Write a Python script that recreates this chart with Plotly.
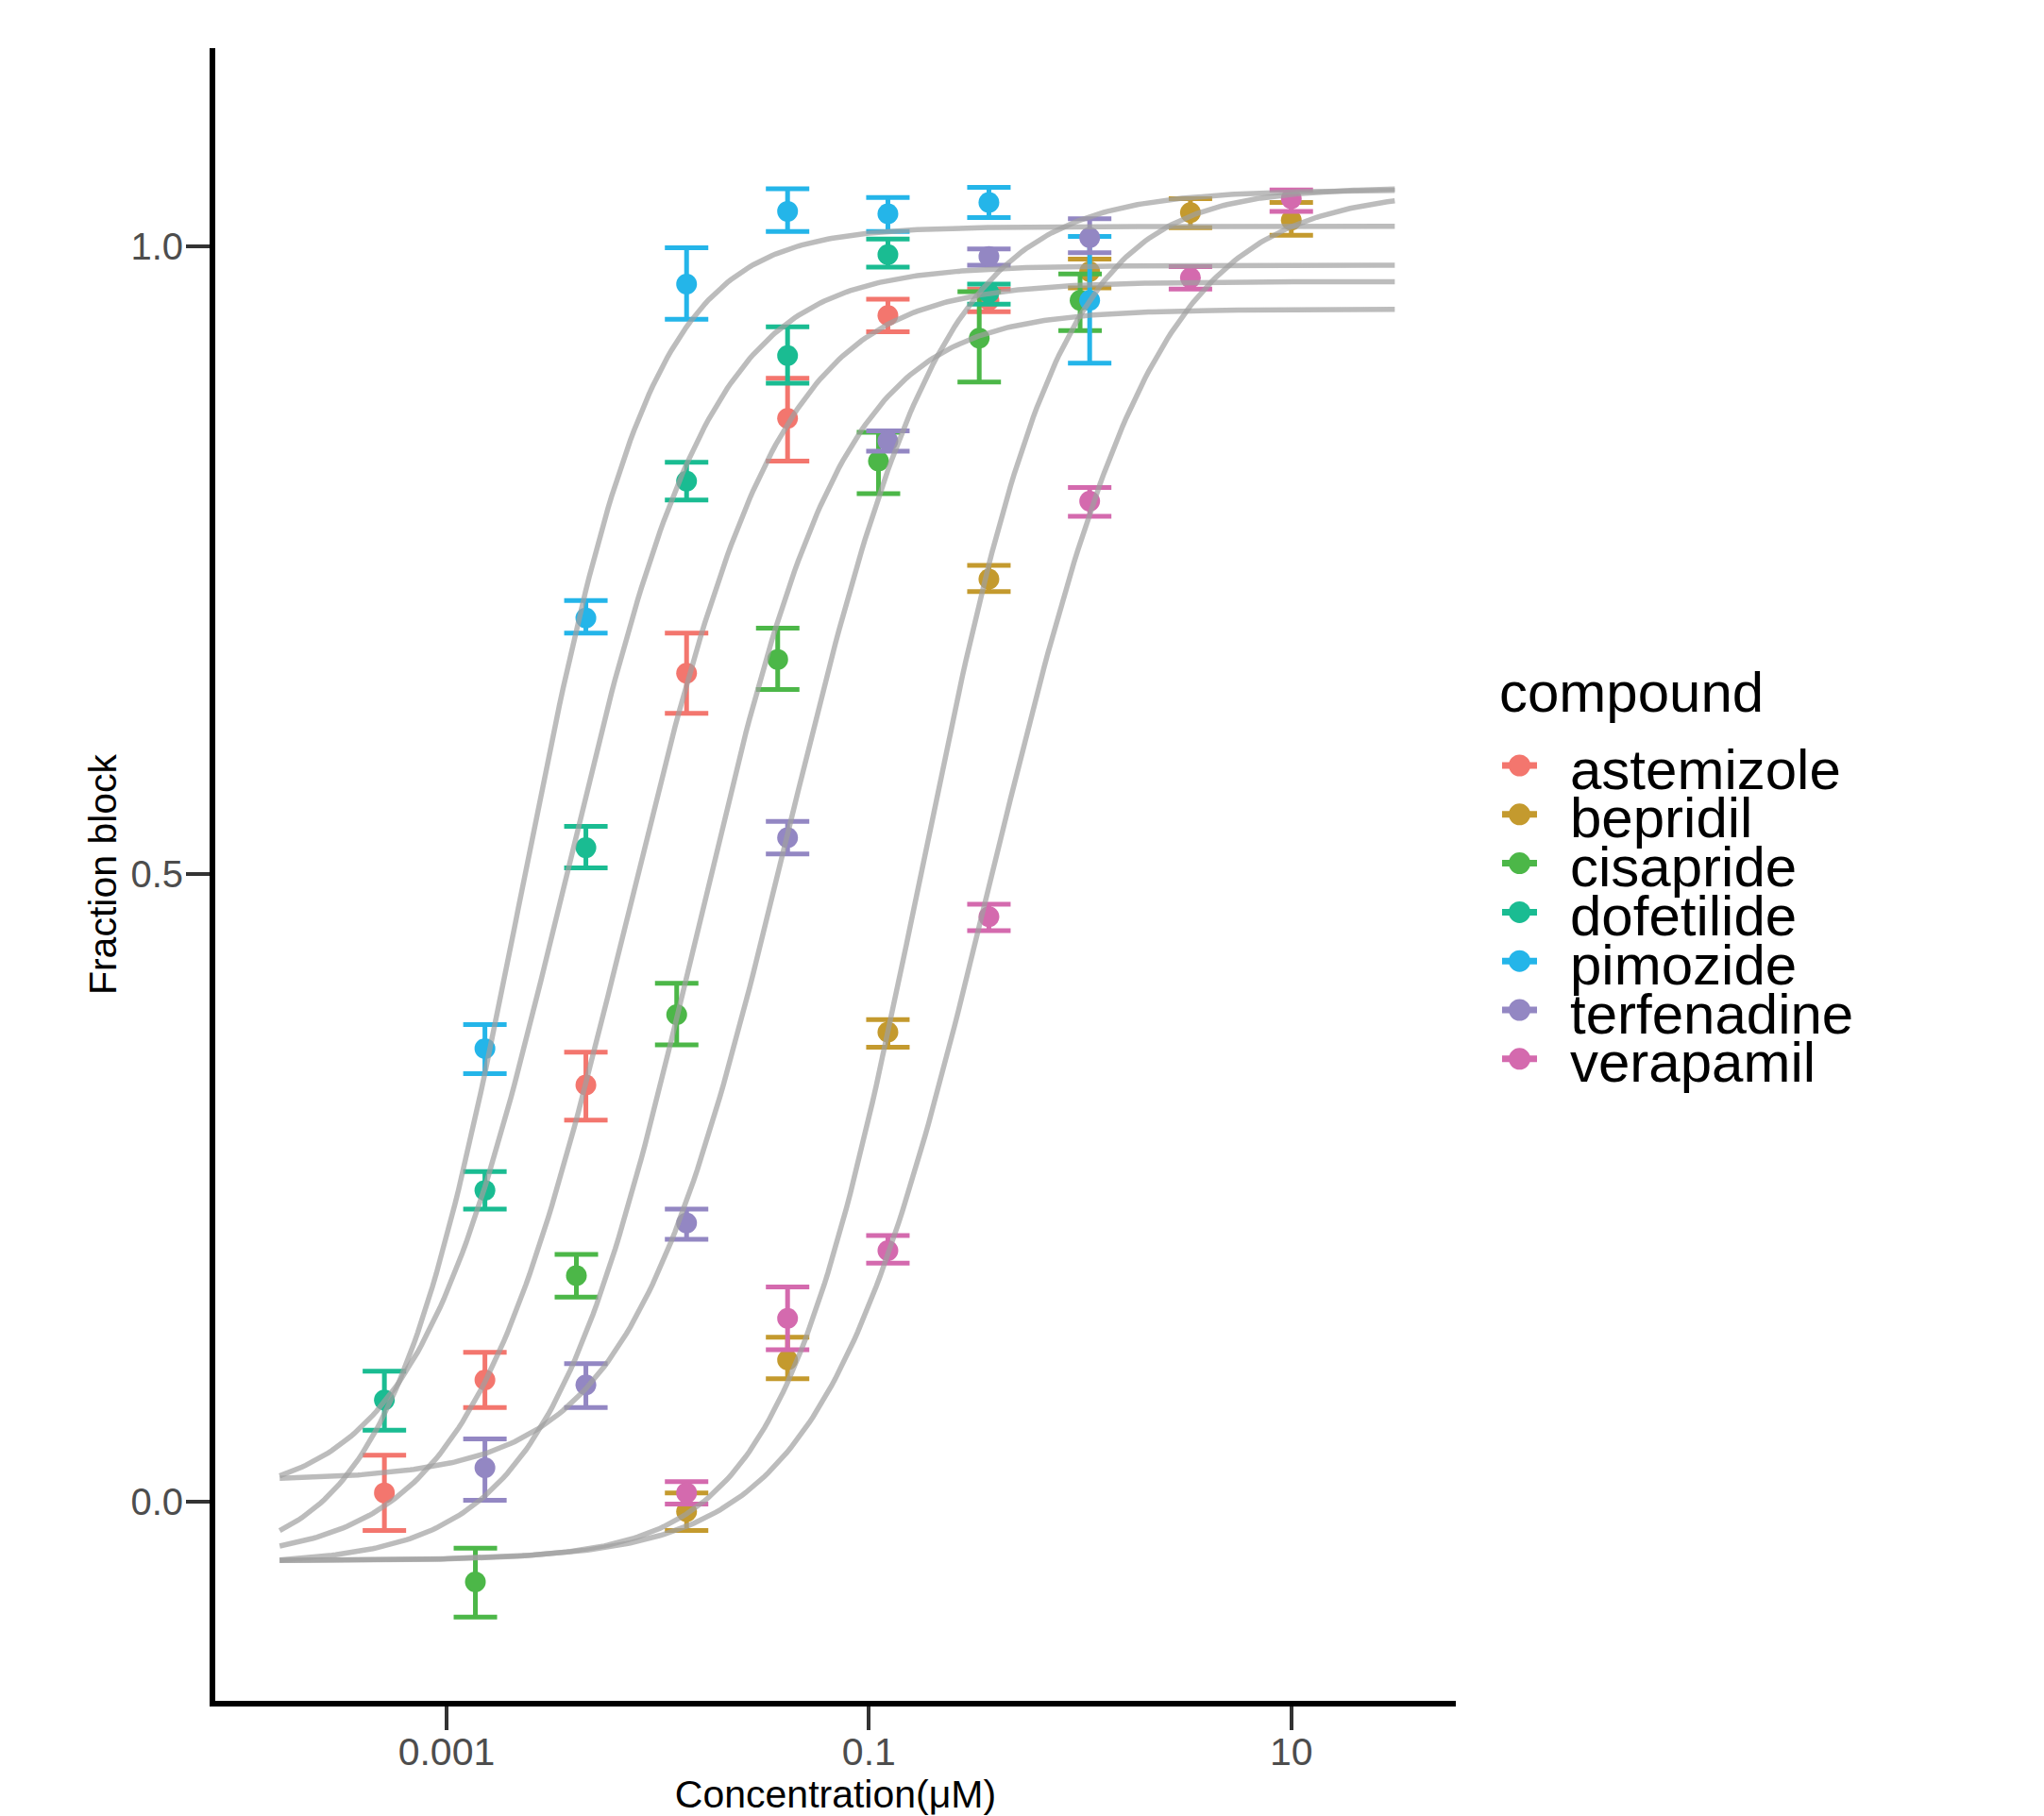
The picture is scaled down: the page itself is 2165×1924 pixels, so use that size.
import numpy as np
import plotly.graph_objects as go

# ---------------- data ----------------
compounds = ["astemizole", "bepridil", "cisapride", "dofetilide",
             "pimozide", "terfenadine", "verapamil"]
colors = ["#F3766E", "#C49A2E", "#4CB748", "#1ABC92",
          "#24B5E9", "#9387C3", "#D46AAE"]

astemizole_conc = [0.000508, 0.00152, 0.00457, 0.0137, 0.0412, 0.123, 0.370]
astemizole_mean = [0.007, 0.097, 0.332, 0.660, 0.863, 0.945, 0.957]
astemizole_lo = [-0.023, 0.075, 0.304, 0.628, 0.829, 0.932, 0.948]
astemizole_hi = [0.037, 0.119, 0.358, 0.692, 0.895, 0.958, 0.966]

bepridil_conc = [0.0137, 0.0412, 0.123, 0.370, 1.11, 3.33, 10.0]
bepridil_mean = [-0.008, 0.113, 0.374, 0.735, 0.980, 1.027, 1.021]
bepridil_lo = [-0.023, 0.098, 0.362, 0.725, 0.967, 1.015, 1.009]
bepridil_hi = [0.007, 0.131, 0.384, 0.746, 0.990, 1.038, 1.035]

cisapride_conc = [0.00137, 0.00412, 0.0123, 0.037, 0.111, 0.333, 1.0]
cisapride_mean = [-0.064, 0.180, 0.388, 0.671, 0.829, 0.927, 0.957]
cisapride_lo = [-0.092, 0.163, 0.364, 0.647, 0.803, 0.892, 0.933]
cisapride_hi = [-0.037, 0.197, 0.413, 0.696, 0.852, 0.964, 0.978]

dofetilide_conc = [0.000508, 0.00152, 0.00457, 0.0137, 0.0412, 0.123, 0.370]
dofetilide_mean = [0.081, 0.248, 0.521, 0.813, 0.913, 0.9935, 0.963]
dofetilide_lo = [0.057, 0.233, 0.505, 0.798, 0.891, 0.9835, 0.954]
dofetilide_hi = [0.104, 0.263, 0.538, 0.828, 0.936, 1.006, 0.970]

pimozide_conc = [0.00152, 0.00457, 0.0137, 0.0412, 0.123, 0.370, 1.11]
pimozide_mean = [0.361, 0.704, 0.970, 1.028, 1.026, 1.035, 0.957]
pimozide_lo = [0.341, 0.692, 0.942, 1.012, 1.012, 1.023, 0.907]
pimozide_hi = [0.380, 0.718, 0.999, 1.046, 1.039, 1.047, 1.008]

terfenadine_conc = [0.00152, 0.00457, 0.0137, 0.0412, 0.123, 0.370, 1.11]
terfenadine_mean = [0.027, 0.093, 0.222, 0.529, 0.845, 0.992, 1.007]
terfenadine_lo = [0.001, 0.075, 0.209, 0.516, 0.837, 0.985, 0.995]
terfenadine_hi = [0.050, 0.110, 0.233, 0.542, 0.853, 0.998, 1.022]

verapamil_conc = [0.0137, 0.0412, 0.123, 0.370, 1.11, 3.33, 10.0]
verapamil_mean = [0.007, 0.146, 0.200, 0.466, 0.797, 0.975, 1.038]
verapamil_lo = [-0.002, 0.121, 0.190, 0.455, 0.785, 0.966, 1.028]
verapamil_hi = [0.016, 0.171, 0.212, 0.476, 0.808, 0.984, 1.045]

# fitted Hill-curve parameters (estimated from the grey curves)
curve_bottom = [-0.047, -0.047, -0.050, 0.000, -0.050, 0.017, -0.047]
curve_top = [0.972, 1.047, 0.950, 0.985, 1.016, 1.045, 1.045]
curve_log_ic50 = [-2.149, -0.754, -1.819, -2.442, -2.648, -1.386, -0.418]
curve_hill = [1.18, 1.31, 1.24, 1.24, 1.39, 1.17, 1.10]
curve_log_min, curve_log_max = -3.79, 1.49

x_tick_vals = [0.001, 0.1, 10]
x_tick_text = ["0.001", "0.1", "10"]
y_tick_vals = [0.0, 0.5, 1.0]
y_tick_text = ["0.0", "0.5", "1.0"]

series = {
    "astemizole": (astemizole_conc, astemizole_mean, astemizole_lo, astemizole_hi),
    "bepridil": (bepridil_conc, bepridil_mean, bepridil_lo, bepridil_hi),
    "cisapride": (cisapride_conc, cisapride_mean, cisapride_lo, cisapride_hi),
    "dofetilide": (dofetilide_conc, dofetilide_mean, dofetilide_lo, dofetilide_hi),
    "pimozide": (pimozide_conc, pimozide_mean, pimozide_lo, pimozide_hi),
    "terfenadine": (terfenadine_conc, terfenadine_mean, terfenadine_lo, terfenadine_hi),
    "verapamil": (verapamil_conc, verapamil_mean, verapamil_lo, verapamil_hi),
}

# ---------------- geometry ----------------
W, H = 2165, 1924
PL, PR, PT, PB = 228, 1542, 51, 1802   # panel edges in pixels
FONT = "Liberation Sans, Arial, sans-serif"


def px2x(px):
    return (px - PL) / (PR - PL)


def py2y(py):
    return (PB - py) / (PB - PT)


fig = go.Figure()

for name, col in zip(compounds, colors):
    c, m, lo, hi = series[name]
    m_a = np.array(m)
    fig.add_trace(go.Scatter(
        x=c, y=m, mode="markers", name=name, showlegend=False,
        marker=dict(color=col, size=22, line=dict(width=0)),
        error_y=dict(type="data", symmetric=False,
                     array=list(np.array(hi) - m_a),
                     arrayminus=list(m_a - np.array(lo)),
                     color=col, thickness=5, width=23),
    ))

xs = np.logspace(curve_log_min, curve_log_max, 300)
for i, name in enumerate(compounds):
    b, t, lic, h = curve_bottom[i], curve_top[i], curve_log_ic50[i], curve_hill[i]
    ys = b + (t - b) / (1.0 + 10 ** (h * (lic - np.log10(xs))))
    fig.add_trace(go.Scatter(
        x=xs, y=ys, mode="lines", showlegend=False, hoverinfo="skip",
        name=name + " fit",
        line=dict(color="rgba(160,160,160,0.7)", width=5.5),
    ))

# ---------------- legend (drawn manually to match ggplot spacing) ----------------
annotations = []
shapes = []
annotations.append(dict(
    x=px2x(1586), y=py2y(733), xref="paper", yref="paper",
    text="compound", showarrow=False, xanchor="left", yanchor="middle",
    font=dict(family=FONT, size=60, color="black")))
for k, (name, col) in enumerate(zip(compounds, colors)):
    cy = 811 + k * 51.8
    shapes.append(dict(type="line", xref="paper", yref="paper",
                       x0=px2x(1591), x1=px2x(1628), y0=py2y(cy), y1=py2y(cy),
                       line=dict(color=col, width=7)))
    shapes.append(dict(type="circle", xref="paper", yref="paper",
                       xsizemode="pixel", ysizemode="pixel",
                       xanchor=px2x(1609.5), yanchor=py2y(cy),
                       x0=-11.5, x1=11.5, y0=-11.5, y1=11.5,
                       fillcolor=col, line=dict(width=0)))
    annotations.append(dict(
        x=px2x(1661), y=py2y(cy + 4), xref="paper", yref="paper",
        text=name, showarrow=False, xanchor="left", yanchor="middle",
        font=dict(family=FONT, size=60, color="black")))

fig.update_layout(
    width=W, height=H,
    margin=dict(l=PL, r=W - PR, t=PT, b=H - PB, pad=0),
    paper_bgcolor="white", plot_bgcolor="white",
    showlegend=False,
    font=dict(family=FONT, color="black"),
    annotations=annotations, shapes=shapes,
)

fig.update_xaxes(
    type="log", range=[-4.095, 1.779],
    showgrid=False, zeroline=False,
    showline=True, linecolor="black", linewidth=6,
    ticks="outside", ticklen=25, tickwidth=4, tickcolor="#333333",
    tickvals=x_tick_vals, ticktext=x_tick_text,
    tickfont=dict(family=FONT, size=41, color="#4D4D4D"),
    ticklabelstandoff=-12,
    title=dict(text="Concentration(μM)", font=dict(family=FONT, size=41, color="black"),
               standoff=22),
    automargin=False,
)
fig.update_yaxes(
    range=[-0.1587, 1.158],
    showgrid=False, zeroline=False,
    showline=True, linecolor="black", linewidth=6,
    ticks="outside", ticklen=25, tickwidth=4, tickcolor="#333333",
    tickvals=y_tick_vals, ticktext=y_tick_text,
    tickfont=dict(family=FONT, size=40, color="#4D4D4D"),
    ticklabelstandoff=-5,
    title=dict(text="Fraction block", font=dict(family=FONT, size=41, color="black"),
               standoff=4),
    automargin=False,
)

fig.write_html("out.html", config={"displayModeBar": False},
               post_script="document.body.style.margin='0';")
